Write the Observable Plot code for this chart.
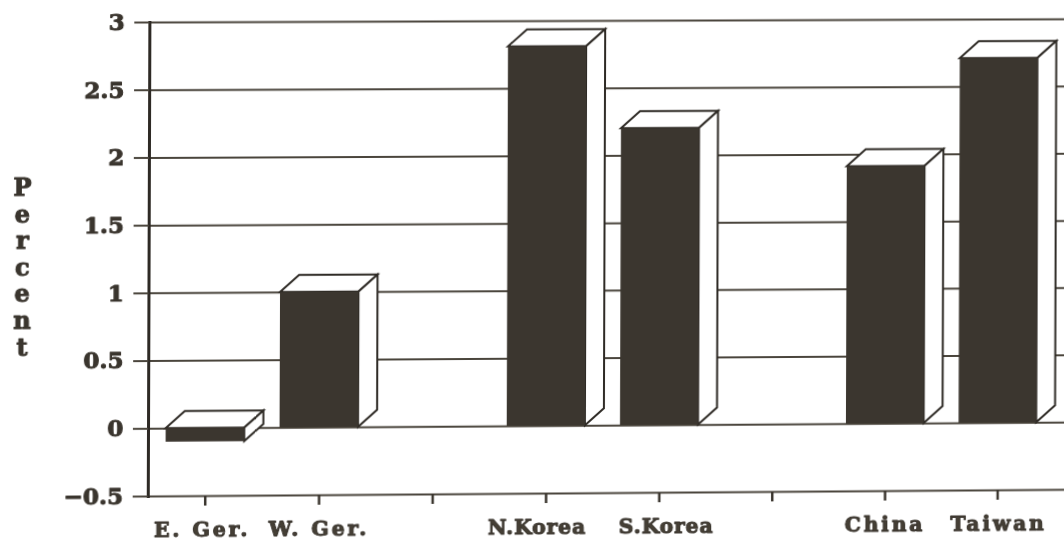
<!DOCTYPE html>
<html>
<head>
<meta charset="utf-8">
<script src="https://cdn.jsdelivr.net/npm/d3@7"></script>
<script src="https://cdn.jsdelivr.net/npm/@observablehq/plot@0.6"></script>
<style>
  html, body { margin: 0; padding: 0; background: #fff; overflow: hidden; }
  #chart { width: 1064px; height: 542px; overflow: hidden; }
  /* The page sits slightly skewed, as on a scanned sheet. */
  #chart svg {
    display: block;
    max-width: none !important;
    transform-origin: 147.5px 428px;
    transform: matrix3d(1.0055, -0.0068, 0, 0.000008, -0.0034, 1, 0, 0, 0, 0, 1, 0, 0, 0, 0, 1);
  }
  #chart svg text { stroke-linejoin: round; }
  .heavy text { stroke: #3a352e; stroke-width: 1px; }
  .loose text { letter-spacing: 2.8px; }
  .tight text { letter-spacing: 0.8px; }
</style>
</head>
<body>
<div id="chart"></div>
<script>
// Slots along the axis; blank slots separate the three country pairs.
const slots = ["E. Ger.", "W. Ger.", " ", "N.Korea", "S.Korea", "  ", "China", "Taiwan", "   "];
const countries = ["E. Ger.", "W. Ger.", "N.Korea", "S.Korea", "China", "Taiwan"];
const percents = [-0.1, 1.0, 2.81, 2.2, 1.91, 2.71];
const yTicks = [-0.5, 0, 0.5, 1, 1.5, 2, 2.5, 3];
const yTitle = "P\ne\nr\nc\ne\nn\nt";

const rows = countries.map((country, i) => ({country, value: percents[i]}));

const ink = "#3a352e";
const barFill = "#3b362f";
const font = "'DejaVu Serif', serif";

// Oblique top and side faces drawn behind each front rectangle.
function extrusion(dx, dy) {
  return (index, scales) => {
    const bandwidth = scales.scales.x.bandwidth;
    const g = d3.create("svg:g")
      .attr("fill", "#fff").attr("stroke", "#2e2a25")
      .attr("stroke-width", 2).attr("stroke-linejoin", "miter");
    for (const d of rows) {
      const x0 = scales.x(d.country);
      const x1 = x0 + bandwidth;
      const yt = scales.y(Math.max(d.value, 0));
      const yb = scales.y(Math.min(d.value, 0));
      g.append("path").attr("d",
        `M${x0},${yt}L${x0 + dx},${yt + dy}L${x1 + dx},${yt + dy}L${x1},${yt}Z`);
      g.append("path").attr("d",
        `M${x1},${yt}L${x1 + dx},${yt + dy}L${x1 + dx},${yb + dy}L${x1},${yb}Z`);
    }
    return g.node();
  };
}

// One country label under the axis, nudged and spaced as typeset.
function countryLabel(name, nudge, spacing) {
  return Plot.text([name], {
    x: d => d,
    frameAnchor: "bottom",
    dy: 34,
    dx: nudge,
    lineAnchor: "middle",
    fontSize: 20.5,
    fontWeight: "bold",
    fill: "#453f35",
    className: `heavy ${spacing}`
  });
}

const chart = Plot.plot({
  width: 1100,
  height: 542,
  marginLeft: 148,
  marginRight: 0,
  marginTop: 22,
  marginBottom: 46,
  style: {fontFamily: font, background: "#fff", overflow: "hidden"},
  x: {
    type: "band",
    domain: slots,
    range: [148, 148 + 113.4 * slots.length],
    round: false,
    paddingInner: 0.31,
    paddingOuter: 0.155,
    label: null
  },
  y: {domain: [-0.5, 3], label: null},
  marks: [
    Plot.ruleY(yTicks, {stroke: "#4a453c", strokeWidth: 2}),
    extrusion(19, -17),
    Plot.barY(rows, {x: "country", y1: 0, y2: "value", fill: barFill}),
    Plot.frame({anchor: "left", stroke: "#2e2a25", strokeWidth: 3}),
    Plot.axisY({
      ticks: yTicks,
      tickSize: 15,
      tickPadding: 10,
      stroke: "#4a453c",
      strokeWidth: 2,
      fontSize: 23,
      fontWeight: "bold",
      fill: ink,
      className: "heavy",
      label: null,
      tickFormat: d => (d < 0 ? "\u2212" : "") + Math.abs(d)
    }),
    Plot.axisX({
      tickSize: 10,
      stroke: ink,
      strokeWidth: 2.5,
      label: null,
      tickFormat: () => ""
    }),
    countryLabel("E. Ger.", -3, "loose"),
    countryLabel("W. Ger.", 0, "loose"),
    countryLabel("N.Korea", -9, "tight"),
    countryLabel("S.Korea", 7, "tight"),
    countryLabel("China", 0, "loose"),
    countryLabel("Taiwan", 1, "loose"),
    Plot.text([yTitle], {
      text: d => d,
      y: () => 1.2,
      frameAnchor: "left",
      dx: -126,
      textAnchor: "middle",
      lineHeight: 1.11,
      fontSize: 24,
      fontWeight: "bold",
      fill: ink,
      className: "heavy"
    })
  ]
});
document.getElementById("chart").append(chart);
</script>
</body>
</html>
